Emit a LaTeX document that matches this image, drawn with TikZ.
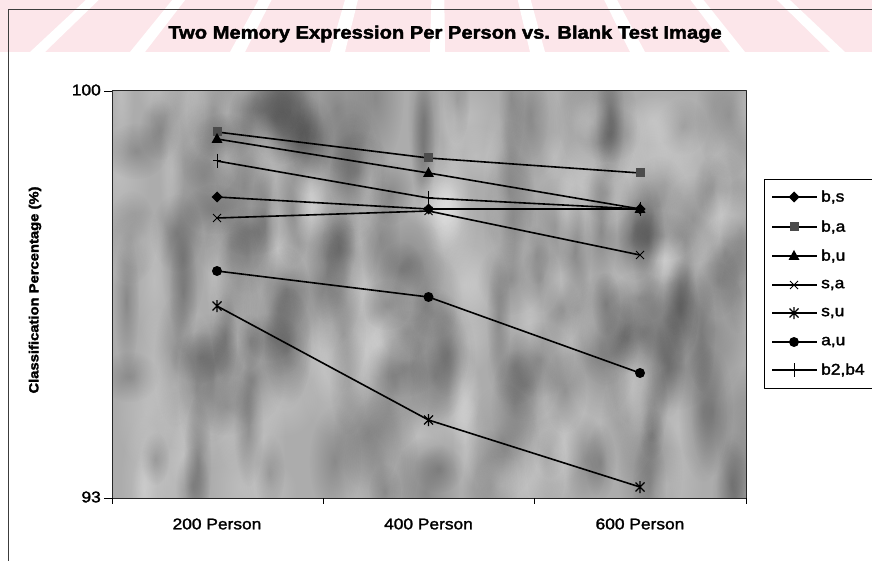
\documentclass[tikz,border=0pt]{standalone}
\usepackage{fontspec}
\setmainfont{Liberation Sans}[FakeStretch=1.12,FakeBold=1.8,BoldFeatures={FakeBold=2.2}]
\usetikzlibrary{fadings}
\tikzfading[name=softblob,inner color=transparent!0,outer color=transparent!100]
\definecolor{bandpink}{RGB}{252,230,234}
\definecolor{plotbg}{RGB}{172,172,172}
\definecolor{framegray}{RGB}{60,60,60}
\begin{document}
\begin{tikzpicture}[x=1pt,y=-1pt,line join=round,
  series/.style={draw=black,line width=1.6},
  keyline/.style={draw=black,line width=1.1},
  ticklabel/.style={font=\fontsize{15.5}{18}\selectfont,inner sep=0pt},
  keylabel/.style={font=\fontsize{15.5}{18}\selectfont,inner sep=0pt,anchor=west},
  blob/.style={path fading=softblob},
  mdiamond/.pic={\fill[black] (0,-5.5) -- (5.5,0) -- (0,5.5) -- (-5.5,0) -- cycle;},
  msquare/.pic={\fill[black!70] (-4.5,-4.5) rectangle (4.5,4.5);},
  mtriangle/.pic={\fill[black] (0,-6) -- (5.5,4) -- (-5.5,4) -- cycle;},
  mcross/.pic={\draw[black,line width=0.9] (-4,-4) -- (4,4) (-4,4) -- (4,-4);},
  mstar/.pic={\draw[black,line width=1.1] (-4.5,-4.5) -- (4.5,4.5) (-4.5,4.5) -- (4.5,-4.5) (0,-6) -- (0,6);},
  mdot/.pic={\fill[black] (0,0) circle[radius=5pt];},
  mplus/.pic={\draw[black,line width=1] (0,-7) -- (0,7) (-4,0) -- (4,0);}]
\useasboundingbox (0,0) rectangle (872,561);

% pink band with white slanted stripes along the top
\fill[bandpink] (0,0) rectangle (872,52);
\begin{scope}
  \clip (0,0) rectangle (872,52);
  \foreach \b in {30,130,...,830}{
    \pgfmathsetmacro\tl{440+(\b-440)*0.864}
    \pgfmathsetmacro\tr{440+(\b+15-440)*0.864}
    \fill[white] (\b,52) -- (\b+15,52) -- (\tr,0) -- (\tl,0) -- cycle;
  }
\end{scope}

% chart frame
\draw[framegray,line width=0.9] (8,561) -- (8,9) -- (872,9);

% title
\node[font=\bfseries\fontsize{18}{20}\selectfont] (title) at (445,34) {Two Memory Expression Per Person vs. Blank Test Image};

% plot area with mottled grey fill
\fill[plotbg] (112,91) rectangle (746,498);
\pgfmathsetseed{42}
\begin{scope}
  \clip (112,91) rectangle (746,498);
  \foreach \i in {1,...,300}{
    \pgfmathsetmacro\px{112+634*rnd}
    \pgfmathsetmacro\py{91+407*rnd}
    \pgfmathsetmacro\rx{12+26*rnd}
    \pgfmathsetmacro\ry{24+50*rnd}
    \pgfmathtruncatemacro\sh{rnd<0.5?1:0}
    \ifnum\sh=1 \def\mc{white}\else\def\mc{black}\fi
    \fill[\mc,opacity=0.2,blob] (\px,\py) ellipse[x radius=\rx pt,y radius=\ry pt];
  }
\end{scope}
\draw[black!85,line width=1] (112,91) rectangle (746,498);

% axes ticks and labels
\draw[black,line width=0.8] (104,91) -- (112,91) (104,498) -- (112,498);
\foreach \t in {112,323.3,534.7,746}{\draw[black,line width=0.8] (\t,498) -- (\t,504);}
\node[ticklabel,anchor=east] (ymax) at (101,90) {100};
\node[ticklabel,anchor=east] (ymin) at (101,497) {93};
\node[ticklabel] (c1) at (217,524) {200 Person};
\node[ticklabel] (c2) at (428.5,524) {400 Person};
\node[ticklabel] (c3) at (640,524) {600 Person};
\node[rotate=90,font=\bfseries\fontsize{13.2}{15}\selectfont] (ytitle) at (35,290) {Classification Percentage (\%)};

% data points
\coordinate (bs1) at (217,197);   \coordinate (bs2) at (428.5,209); \coordinate (bs3) at (640,209);
\coordinate (ba1) at (217,132);   \coordinate (ba2) at (428.5,158); \coordinate (ba3) at (640,173);
\coordinate (bu1) at (217,139);   \coordinate (bu2) at (428.5,173); \coordinate (bu3) at (640,209);
\coordinate (sa1) at (217,218);   \coordinate (sa2) at (428.5,211); \coordinate (sa3) at (640,255);
\coordinate (su1) at (217,306);   \coordinate (su2) at (428.5,420); \coordinate (su3) at (640,487);
\coordinate (au1) at (217,271);   \coordinate (au2) at (428.5,297); \coordinate (au3) at (640,373);
\coordinate (bb1) at (217,161);   \coordinate (bb2) at (428.5,198); \coordinate (bb3) at (640,209);

\draw[series] (bs1) -- (bs2) -- (bs3);
\draw[series] (ba1) -- (ba2) -- (ba3);
\draw[series] (bu1) -- (bu2) -- (bu3);
\draw[series] (sa1) -- (sa2) -- (sa3);
\draw[series] (su1) -- (su2) -- (su3);
\draw[series] (au1) -- (au2) -- (au3);
\draw[series] (bb1) -- (bb2) -- (bb3);

\foreach \p in {bs1,bs2,bs3}{\path (\p) pic{mdiamond};}
\foreach \p in {ba1,ba2,ba3}{\path (\p) pic{msquare};}
\foreach \p in {bu1,bu2,bu3}{\path (\p) pic{mtriangle};}
\foreach \p in {sa1,sa2,sa3}{\path (\p) pic{mcross};}
\foreach \p in {su1,su2,su3}{\path (\p) pic{mstar};}
\foreach \p in {au1,au2,au3}{\path (\p) pic{mdot};}
\foreach \p in {bb1,bb2,bb3}{\path (\p) pic{mplus};}

% legend
\draw[black,line width=1,fill=white] (764,180) rectangle (884,388);
\foreach \y/\m/\lab [count=\k] in {197/mdiamond/{b,s},227/msquare/{b,a},256/mtriangle/{b,u},285/mcross/{s,a},313/mstar/{s,u},342/mdot/{a,u},370/mplus/{b2,b4}}{
  \coordinate (k\k a) at (772,\y);
  \coordinate (k\k m) at (794,\y);
  \coordinate (k\k b) at (817,\y);
  \draw[keyline] (k\k a) -- (k\k b);
  \path (k\k m) pic{\m};
  \node[keylabel] (kl\k) at (821,\y) {\lab};
}
\end{tikzpicture}
\end{document}
